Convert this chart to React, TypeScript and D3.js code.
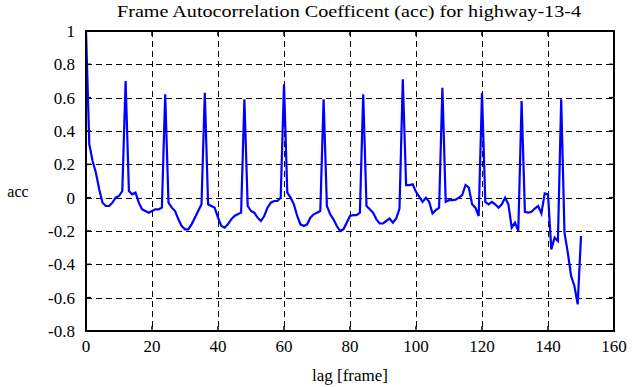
import * as d3 from 'd3'
import { useEffect, useRef } from 'react'

// autocorrelation coefficient per lag (lag = index, 0..150)
const ACC = [
  1.0, 0.32, 0.22, 0.15, 0.05, -0.03, -0.05, -0.05, -0.03, 0.0,
  0.01, 0.04, 0.7, 0.04, 0.02, 0.03, -0.03, -0.07, -0.08, -0.09,
  -0.08, -0.07, -0.07, -0.06, 0.62, -0.03, -0.06, -0.08, -0.13, -0.17,
  -0.19, -0.19, -0.16, -0.12, -0.08, -0.04, 0.63, -0.04, -0.05, -0.06,
  -0.12, -0.17, -0.18, -0.16, -0.13, -0.11, -0.1, -0.09, 0.59, -0.05,
  -0.08, -0.09, -0.12, -0.14, -0.11, -0.06, -0.03, -0.02, -0.02, 0.0,
  0.68, 0.03, 0.0, -0.04, -0.11, -0.16, -0.17, -0.16, -0.12, -0.1,
  -0.09, -0.08, 0.59, -0.05, -0.1, -0.13, -0.17, -0.2, -0.19, -0.15,
  -0.11, -0.105, -0.105, -0.09, 0.62, -0.05, -0.07, -0.09, -0.13, -0.155,
  -0.155, -0.14, -0.125, -0.15, -0.125, -0.065, 0.71, 0.075, 0.075, 0.08,
  0.035, 0.005, -0.025, 0.0, -0.025, -0.095, -0.075, -0.06, 0.66, -0.025,
  -0.015, -0.015, -0.012, 0.0, 0.016, 0.076, 0.06, -0.04, -0.06, -0.11,
  0.63, -0.025, -0.04, -0.025, -0.04, -0.06, -0.04, 0.0, -0.04, -0.18,
  -0.15, -0.2, 0.58, -0.085, -0.09, -0.085, -0.065, -0.05, -0.095, 0.026,
  0.02, -0.31, -0.24, -0.26, 0.59, -0.21, -0.33, -0.47, -0.53, -0.64,
  -0.23,
]

const X_TICKS = [0, 20, 40, 60, 80, 100, 120, 140, 160]
const Y_TICKS = [-0.8, -0.6, -0.4, -0.2, 0, 0.2, 0.4, 0.6, 0.8, 1]
const Y_LABELS = ['-0.8', '-0.6', '-0.4', '-0.2', '0', '0.2', '0.4', '0.6', '0.8', '1']

export default function App() {
  const ref = useRef<HTMLDivElement>(null)

  useEffect(() => {
    const width = 635
    const height = 387
    const left = 86
    const right = 614
    const top = 31
    const bottom = 331
    const font = '"Liberation Serif", "DejaVu Serif", serif'

    const x = d3.scaleLinear().domain([0, 160]).range([left, right])
    const y = d3.scaleLinear().domain([-0.8, 1]).range([bottom, top])

    const svg = d3
      .create('svg')
      .attr('width', width)
      .attr('height', height)
      .attr('viewBox', [0, 0, width, height])
      .attr('style', 'position:absolute;left:0;top:0;background:#fff')
      .style('font-family', font)

    /* dashed grid */
    const grid = svg
      .append('g')
      .attr('stroke', '#000')
      .attr('stroke-width', 1)
      .attr('stroke-dasharray', '6,4')
      .attr('shape-rendering', 'crispEdges')
    grid
      .append('g')
      .selectAll('line')
      .data(X_TICKS.slice(1, -1))
      .join('line')
      .attr('x1', (d) => Math.round(x(d)) + 0.5)
      .attr('x2', (d) => Math.round(x(d)) + 0.5)
      .attr('y1', top)
      .attr('y2', bottom)
    grid
      .append('g')
      .selectAll('line')
      .data(Y_TICKS.slice(1, -1))
      .join('line')
      .attr('x1', left)
      .attr('x2', right)
      .attr('y1', (d) => Math.round(y(d)) + 0.5)
      .attr('y2', (d) => Math.round(y(d)) + 0.5)

    /* inward ticks on all four sides */
    const ticks = svg.append('g').attr('stroke', '#000').attr('stroke-width', 1.5)
    const tl = 5
    ticks
      .append('g')
      .selectAll('line')
      .data(X_TICKS)
      .join('line')
      .attr('x1', (d) => x(d))
      .attr('x2', (d) => x(d))
      .attr('y1', bottom)
      .attr('y2', bottom - tl)
    ticks
      .append('g')
      .selectAll('line')
      .data(X_TICKS)
      .join('line')
      .attr('x1', (d) => x(d))
      .attr('x2', (d) => x(d))
      .attr('y1', top)
      .attr('y2', top + tl)
    ticks
      .append('g')
      .selectAll('line')
      .data(Y_TICKS)
      .join('line')
      .attr('x1', left)
      .attr('x2', left + tl)
      .attr('y1', (d) => y(d))
      .attr('y2', (d) => y(d))
    ticks
      .append('g')
      .selectAll('line')
      .data(Y_TICKS)
      .join('line')
      .attr('x1', right)
      .attr('x2', right - tl)
      .attr('y1', (d) => y(d))
      .attr('y2', (d) => y(d))

    /* the acc curve */
    const line = d3
      .line<number>()
      .x((_, i) => x(i))
      .y((d) => y(d))
    svg
      .append('path')
      .datum(ACC)
      .attr('fill', 'none')
      .attr('stroke', '#0000ff')
      .attr('stroke-width', 2.2)
      .attr('stroke-linejoin', 'miter')
      .attr('d', line)

    /* axes box */
    svg
      .append('rect')
      .attr('x', left)
      .attr('y', top)
      .attr('width', right - left)
      .attr('height', bottom - top)
      .attr('fill', 'none')
      .attr('stroke', '#000')
      .attr('stroke-width', 2)

    /* tick labels */
    svg
      .append('g')
      .attr('font-size', 17)
      .attr('text-anchor', 'middle')
      .selectAll('text')
      .data(X_TICKS)
      .join('text')
      .attr('x', (d) => x(d))
      .attr('y', bottom + 21)
      .text((d) => String(d))
    svg
      .append('g')
      .attr('font-size', 17)
      .attr('text-anchor', 'end')
      .selectAll('text')
      .data(Y_TICKS)
      .join('text')
      .attr('x', left - 11)
      .attr('y', (d) => y(d) + 6)
      .text((_, i) => Y_LABELS[i])

    /* titles */
    svg
      .append('text')
      .attr('x', 349)
      .attr('y', 17)
      .attr('text-anchor', 'middle')
      .attr('font-size', 17)
      .attr('textLength', 464)
      .attr('lengthAdjust', 'spacingAndGlyphs')
      .text('Frame Autocorrelation Coefficent (acc) for highway-13-4')
    svg
      .append('text')
      .attr('x', 350)
      .attr('y', 381)
      .attr('text-anchor', 'middle')
      .attr('font-size', 17)
      .text('lag [frame]')
    svg
      .append('text')
      .attr('x', 18)
      .attr('y', 197)
      .attr('text-anchor', 'middle')
      .attr('font-size', 16)
      .text('acc')

    const node = svg.node()
    if (ref.current && node) {
      ref.current.innerHTML = ''
      ref.current.appendChild(node)
    }
  }, [])

  return <div ref={ref} />
}
